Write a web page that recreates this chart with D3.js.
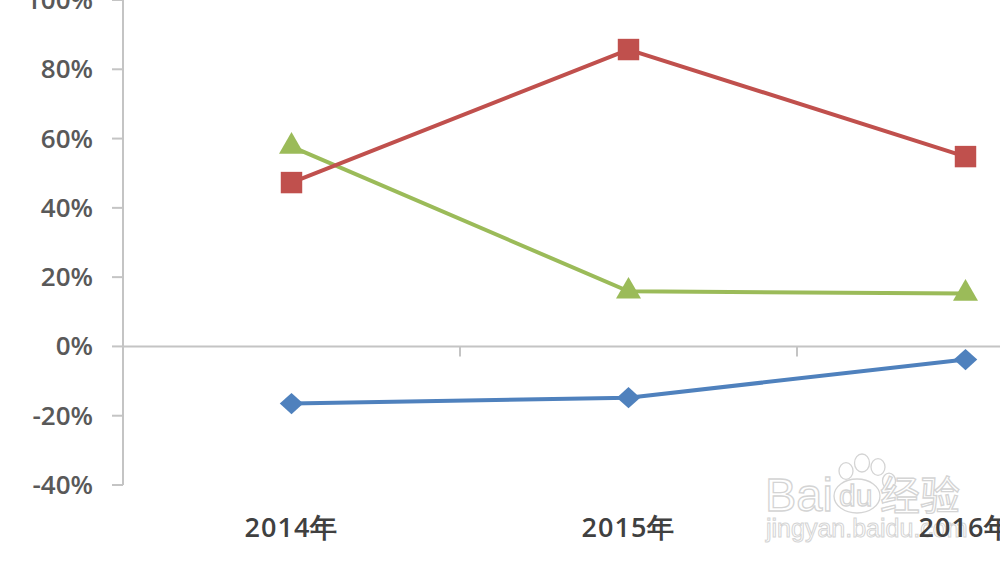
<!DOCTYPE html>
<html><head><meta charset="utf-8">
<script src="https://cdn.jsdelivr.net/npm/d3@7"></script>
<style>html,body{margin:0;padding:0;background:#fff;overflow:hidden}</style>
</head><body>
<svg id="c" width="1000" height="562"></svg>
<script>
const categories = ["2014年", "2015年", "2016年"];
const redValues = [47.3, 85.7, 54.8];
const greenValues = [57.7, 15.9, 15.3];
const blueValues = [-16.5, -14.8, -3.8];
const yTicks = [-40, -20, 0, 20, 40, 60, 80, 100];

const svg = d3.select("#c");
const x = d3.scaleBand().domain(categories).range([123, 1134]).padding(0);
const y = d3.scaleLinear().domain([-40, 100]).range([485, 0]);
const cx = d => x(d) + x.bandwidth() / 2;

// watermark
const wm = svg.append("g").attr("fill", "#fff").attr("stroke", "#d4d4d4").attr("stroke-width", 1.3)
  .style("font-family", "Liberation Sans, Arial, sans-serif");
wm.append("text").attr("x", 765).attr("y", 511).attr("font-size", 47).text("Bai");
const paw = wm.append("g");
[[846,471,7],[862,463,7.5],[878,467,7],[889,481,6.5]].forEach(p=>paw.append("ellipse").attr("cx",p[0]).attr("cy",p[1]).attr("rx",p[2]).attr("ry",p[2]*1.2));
paw.append("ellipse").attr("cx", 857).attr("cy", 496).attr("rx", 23).attr("ry", 17);
wm.append("text").attr("x", 839).attr("y", 506).attr("font-size", 30).text("du");
wm.append("text").attr("x", 880).attr("y", 510).attr("font-size", 40)
  .style("font-family", "Noto Sans CJK SC, sans-serif").text("经验");
wm.append("text").attr("x", 766).attr("y", 537).attr("font-size", 25).attr("stroke-width", 1).text("jingyan.baidu.com");

// axes
const axisColor = "#c4c4c4";
svg.append("line").attr("x1", 123).attr("x2", 123).attr("y1", y(104)).attr("y2", y(-40))
  .attr("stroke", axisColor).attr("stroke-width", 2);
svg.selectAll(".yt").data(yTicks).enter().append("line")
  .attr("x1", 112).attr("x2", 123).attr("y1", d => y(d)).attr("y2", d => y(d))
  .attr("stroke", axisColor).attr("stroke-width", 2);
svg.append("line").attr("x1", 123).attr("x2", 1000).attr("y1", y(0)).attr("y2", y(0))
  .attr("stroke", axisColor).attr("stroke-width", 2);
svg.selectAll(".xt").data(categories.slice(1)).enter().append("line")
  .attr("x1", d => x(d)).attr("x2", d => x(d)).attr("y1", y(0)).attr("y2", y(0) + 10)
  .attr("stroke", axisColor).attr("stroke-width", 2);

svg.selectAll(".yl").data(yTicks).enter().append("text")
  .attr("x", 93).attr("y", d => y(d) + 9)
  .attr("text-anchor", "end").attr("font-size", 26).attr("font-weight", 600)
  .attr("fill", "#595959").style("font-family", "Open Sans, sans-serif")
  .text(d => d + "%");

svg.selectAll(".xl").data(categories).enter().append("text")
  .attr("x", d => cx(d)).attr("y", 537)
  .attr("text-anchor", "middle").attr("font-size", 27).attr("font-weight", 600)
  .attr("letter-spacing", 1)
  .attr("fill", "#404040").style("font-family", "Open Sans, sans-serif")
  .text(d => d);

const diamond = {draw(ctx, size) { const r = Math.sqrt(size) / 2; ctx.moveTo(0, -r * 0.95); ctx.lineTo(r * 1.05, 0); ctx.lineTo(0, r * 0.95); ctx.lineTo(-r * 1.05, 0); ctx.closePath(); }};
const series = [
  {vals: blueValues, color: "#4f81bd", sym: diamond, size: 500},
  {vals: greenValues, color: "#9bbb59", sym: d3.symbolTriangle, size: 270},
  {vals: redValues, color: "#c0504d", sym: d3.symbolSquare, size: 460},
];
const line = d3.line().x((d, i) => cx(categories[i])).y(d => y(d));
series.forEach(s => {
  svg.append("path").datum(s.vals).attr("d", line).attr("fill", "none")
    .attr("stroke", s.color).attr("stroke-width", 4);
  svg.selectAll(null).data(s.vals).enter().append("path")
    .attr("d", d3.symbol().type(s.sym).size(s.size))
    .attr("transform", (d, i) => `translate(${cx(categories[i])},${y(d)})`)
    .attr("fill", s.color);
});
</script>
</body></html>
